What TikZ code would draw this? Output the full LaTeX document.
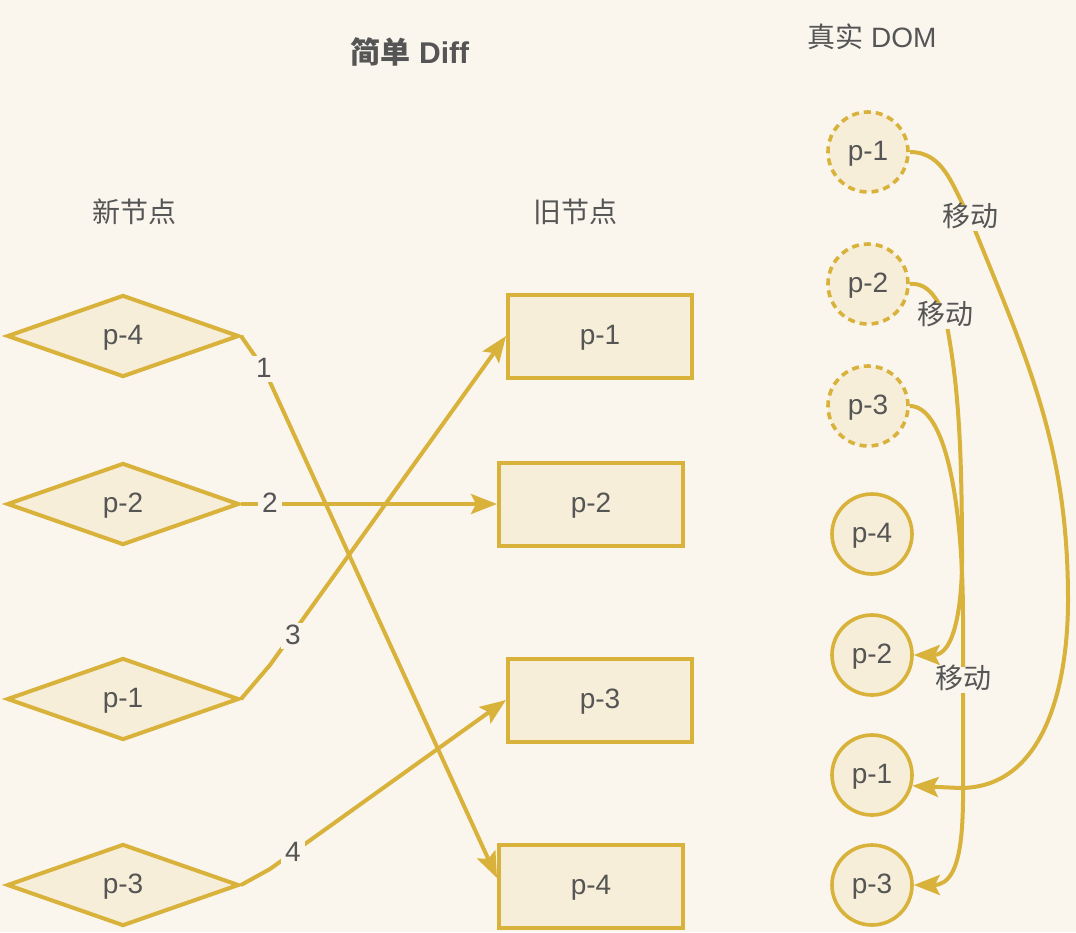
\documentclass[tikz,border=0pt]{standalone}
\usepackage{fontspec}
\setmainfont{Liberation Sans}
\newfontfamily\cjk{Noto Sans CJK SC}
\usetikzlibrary{shapes.geometric,arrows.meta}
\definecolor{paper}{HTML}{FAF6EE}
\definecolor{nodefill}{HTML}{F6EED8}
\definecolor{gold}{HTML}{D8B23A}
\definecolor{ink}{HTML}{555555}
\begin{document}
\begin{tikzpicture}[x=0.5pt,y=-0.5pt,
	font=\fontsize{14pt}{16pt}\selectfont,text=ink,
	shapetext/.style={text height=0.86em,text depth=0em},
	newnode/.style={diamond,draw=gold,fill=nodefill,line width=2pt,minimum width=116pt,minimum height=41pt,inner sep=0pt,shapetext},
	oldnode/.style={rectangle,draw=gold,fill=nodefill,line width=2pt,minimum width=92pt,minimum height=41.5pt,shapetext},
	domnode/.style={circle,draw=gold,fill=nodefill,line width=1.8pt,minimum size=40pt,inner sep=0pt,shapetext},
	ghost/.style={domnode,dash pattern=on 3.5pt off 2.5pt},
	move/.style={draw=gold,line width=2pt,-{Stealth[length=13pt,width=10pt,inset=2.5pt]}},
	lbl/.style={fill=paper,inner sep=2pt,shapetext}]
					\fill[paper] (0,0) rectangle (1076,932);
					\useasboundingbox (0,0) rectangle (1076,932);
					%
					\node[font=\fontsize{15pt}{18pt}\selectfont\bfseries] (title) at (410,52) {{\cjk 简单} Diff};
					\node (domtitle) at (872,37)  {{\cjk 真实} DOM};
					\node[font=\fontsize{14pt}{16pt}\cjk] (newtitle) at (134,212) {新节点};
					\node[font=\fontsize{14pt}{16pt}\cjk] (oldtitle) at (575,212) {旧节点};
					%
					\node[newnode] (n4) at (123,336) {p-4};
					\node[newnode] (n2) at (123,504) {p-2};
					\node[newnode] (n1) at (123,699) {p-1};
					\node[newnode] (n3) at (123,885) {p-3};
					%
					\node[oldnode] (o1) at (600,336) {p-1};
					\node[oldnode] (o2) at (591,504) {p-2};
					\node[oldnode] (o3) at (600,700) {p-3};
					\node[oldnode] (o4) at (591,886) {p-4};
					%
					\node[ghost] (g1) at (868,152) {p-1};
					\node[ghost] (g2) at (868,284) {p-2};
					\node[ghost] (g3) at (868,406) {p-3};
					\node[domnode] (d4) at (872,534) {p-4};
					\node[domnode] (d2) at (872,655) {p-2};
					\node[domnode] (d1) at (872,775) {p-1};
					\node[domnode] (d3) at (872,885) {p-3};
					%
					\draw[move] (n4.east) -- (264,369) -- ([yshift=4pt]o4.west);
					\draw[move] (n2.east) -- (o2.west);
					\draw[move] (n1.east) -- (270,665) -- (o1.west);
					\draw[move] (n3.east) -- (270,869) -- (o3.west);
					%
					\draw[move] (g1.east) to[out=0,in=120] (970,218) to[out=-68,in=90] (1068,600) to[out=-90,in=0] (960,788) -- (d1.-15);
					\draw[move] (g2.east) to[out=5,in=115] (945,316) .. controls (958,380) and (962,440) .. (962,560) to[out=-90,in=0] (d2.east);
					\draw[move] (g3.east) .. controls (945,406) and (963,500) .. (963,620) -- (963,760) to[out=-90,in=0] (d3.east);
					%
					\node[lbl] (l1) at (264,369) {1};
					\node[lbl] (l2) at (270,504) {2};
					\node[lbl] (l3) at (293,636) {3};
					\node[lbl] (l4) at (293,853) {4};
					\node[lbl,font=\fontsize{14pt}{16pt}\cjk] (m1) at (970,218) {移动};
					\node[lbl,font=\fontsize{14pt}{16pt}\cjk] (m2) at (945,316) {移动};
					\node[lbl,font=\fontsize{14pt}{16pt}\cjk] (m3) at (963,680) {移动};
				\end{tikzpicture}
\end{document}
